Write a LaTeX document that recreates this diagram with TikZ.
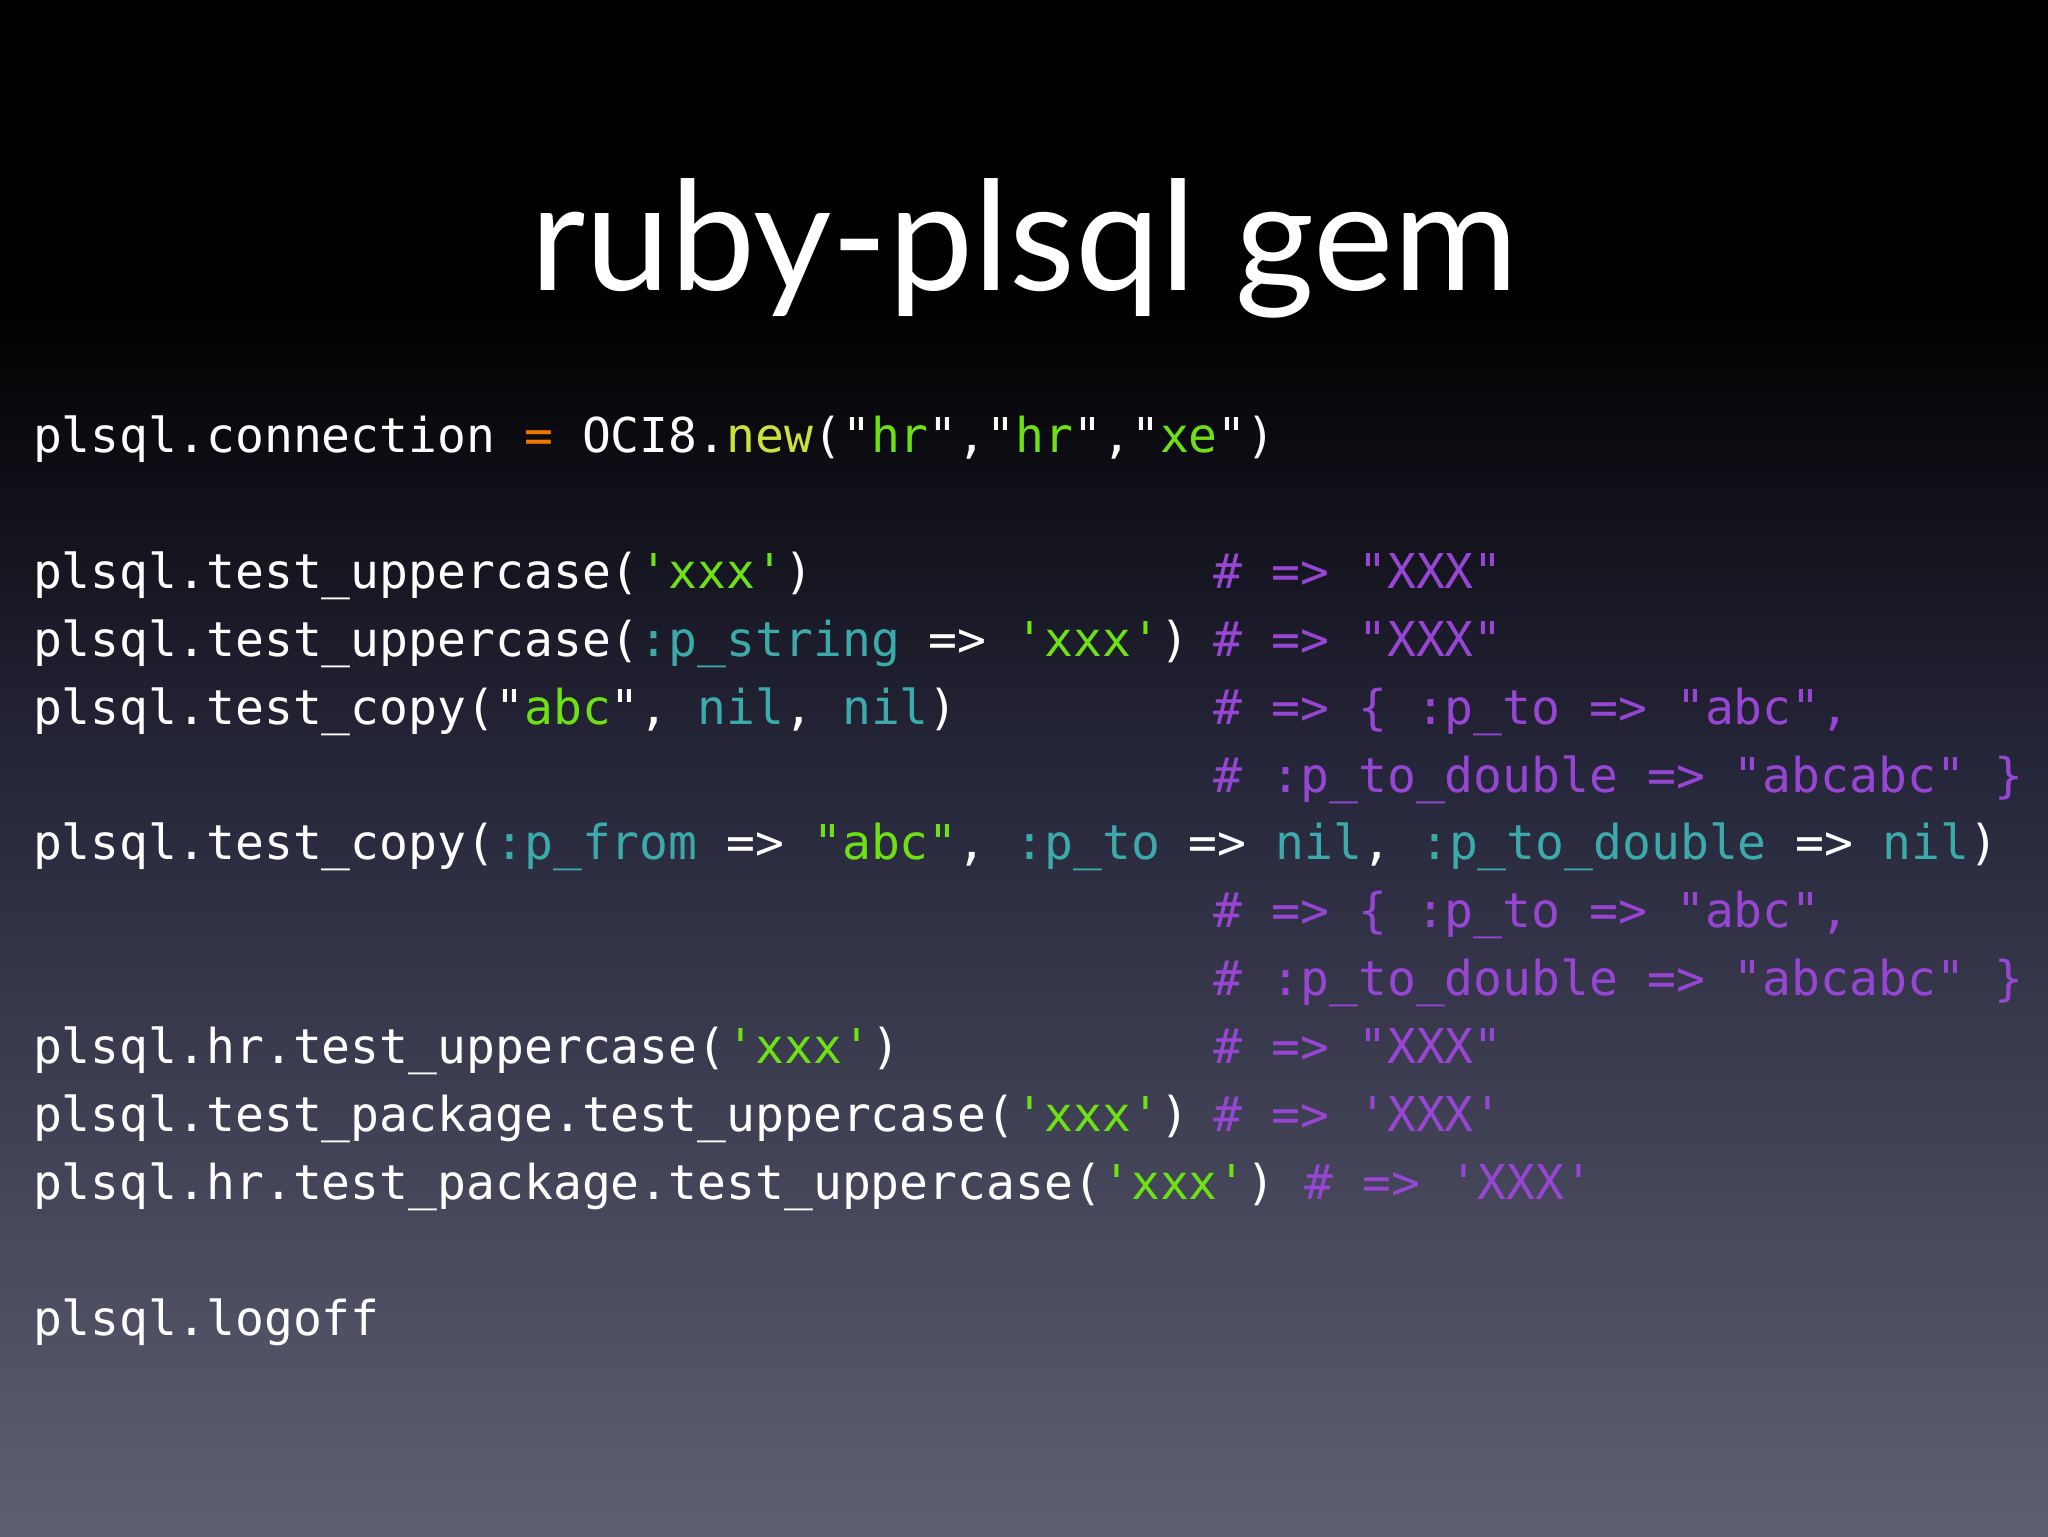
\documentclass[tikz,border=0pt]{standalone}
\usepackage{fontspec}
\newfontfamily\code{DejaVu Sans Mono}
\newfontfamily\titlefont{Lato}
\definecolor{gr}{RGB}{110,225,20}
\definecolor{yl}{RGB}{205,225,60}
\definecolor{tl}{RGB}{60,170,170}
\definecolor{pu}{RGB}{150,70,210}
\definecolor{og}{RGB}{240,120,0}
\definecolor{bot}{RGB}{95,95,115}
\definecolor{midc}{RGB}{38,38,58}
\begin{document}
\begin{tikzpicture}[x=1pt,y=-1pt,
  ln/.style={anchor=mid west,inner sep=0pt,text=white,font=\code\fontsize{24}{24}\selectfont}]
\fill[black] (0,0) rectangle (1024,150);
\shade[top color=black,bottom color=midc] (0,150) rectangle (1024,384);
\shade[top color=midc,bottom color=bot] (0,384) rectangle (1024,768);
\useasboundingbox (0,0) rectangle (1024,768);
\node[text=white,font=\titlefont\fontsize{76}{76}\selectfont] (title) at (512,124) {ruby-plsql gem};
\def\cx{606.7}
\begin{scope}[yshift=-6.5pt]
\node[ln] (l1) at (16.3,217.5) {plsql.connection \textcolor{og}{=} OCI8.\textcolor{yl}{new}("\textcolor{gr}{hr}","\textcolor{gr}{hr}","\textcolor{gr}{xe}")};
\node[ln] (l2) at (16.3,285.4) {plsql.test\_uppercase(\textcolor{gr}{'xxx'})};
\node[ln] (l3) at (16.3,319.4) {plsql.test\_uppercase(\textcolor{tl}{:p\_string} => \textcolor{gr}{'xxx'})};
\node[ln] (l4) at (16.3,353.4) {plsql.test\_copy("\textcolor{gr}{abc}", \textcolor{tl}{nil}, \textcolor{tl}{nil})};
\node[ln] (l6) at (16.3,421.3) {plsql.test\_copy(\textcolor{tl}{:p\_from} => \textcolor{gr}{"abc"}, \textcolor{tl}{:p\_to} => \textcolor{tl}{nil}, \textcolor{tl}{:p\_to\_double} => \textcolor{tl}{nil})};
\node[ln] (l9) at (16.3,523.2) {plsql.hr.test\_uppercase(\textcolor{gr}{'xxx'})};
\node[ln] (l10) at (16.3,557.2) {plsql.test\_package.test\_uppercase(\textcolor{gr}{'xxx'})};
\node[ln] (l11) at (16.3,591.1) {plsql.hr.test\_package.test\_uppercase(\textcolor{gr}{'xxx'}) \textcolor{pu}{\# => 'XXX'}};
\node[ln] (l13) at (16.3,659.0) {plsql.logoff};
\begin{scope}[every node/.style={ln,text=pu}]
\node (c2) at (\cx,285.4) {\# => "XXX"};
\node (c3) at (\cx,319.4) {\# => "XXX"};
\node (c4) at (\cx,353.4) {\# => \{ :p\_to => "abc",};
\node (c5) at (\cx,387.4) {\# :p\_to\_double => "abcabc" \}};
\node (c7) at (\cx,455.3) {\# => \{ :p\_to => "abc",};
\node (c8) at (\cx,489.3) {\# :p\_to\_double => "abcabc" \}};
\node (c9) at (\cx,523.2) {\# => "XXX"};
\node (c10) at (\cx,557.2) {\# => 'XXX'};
\end{scope}
\end{scope}
\end{tikzpicture}
\end{document}
